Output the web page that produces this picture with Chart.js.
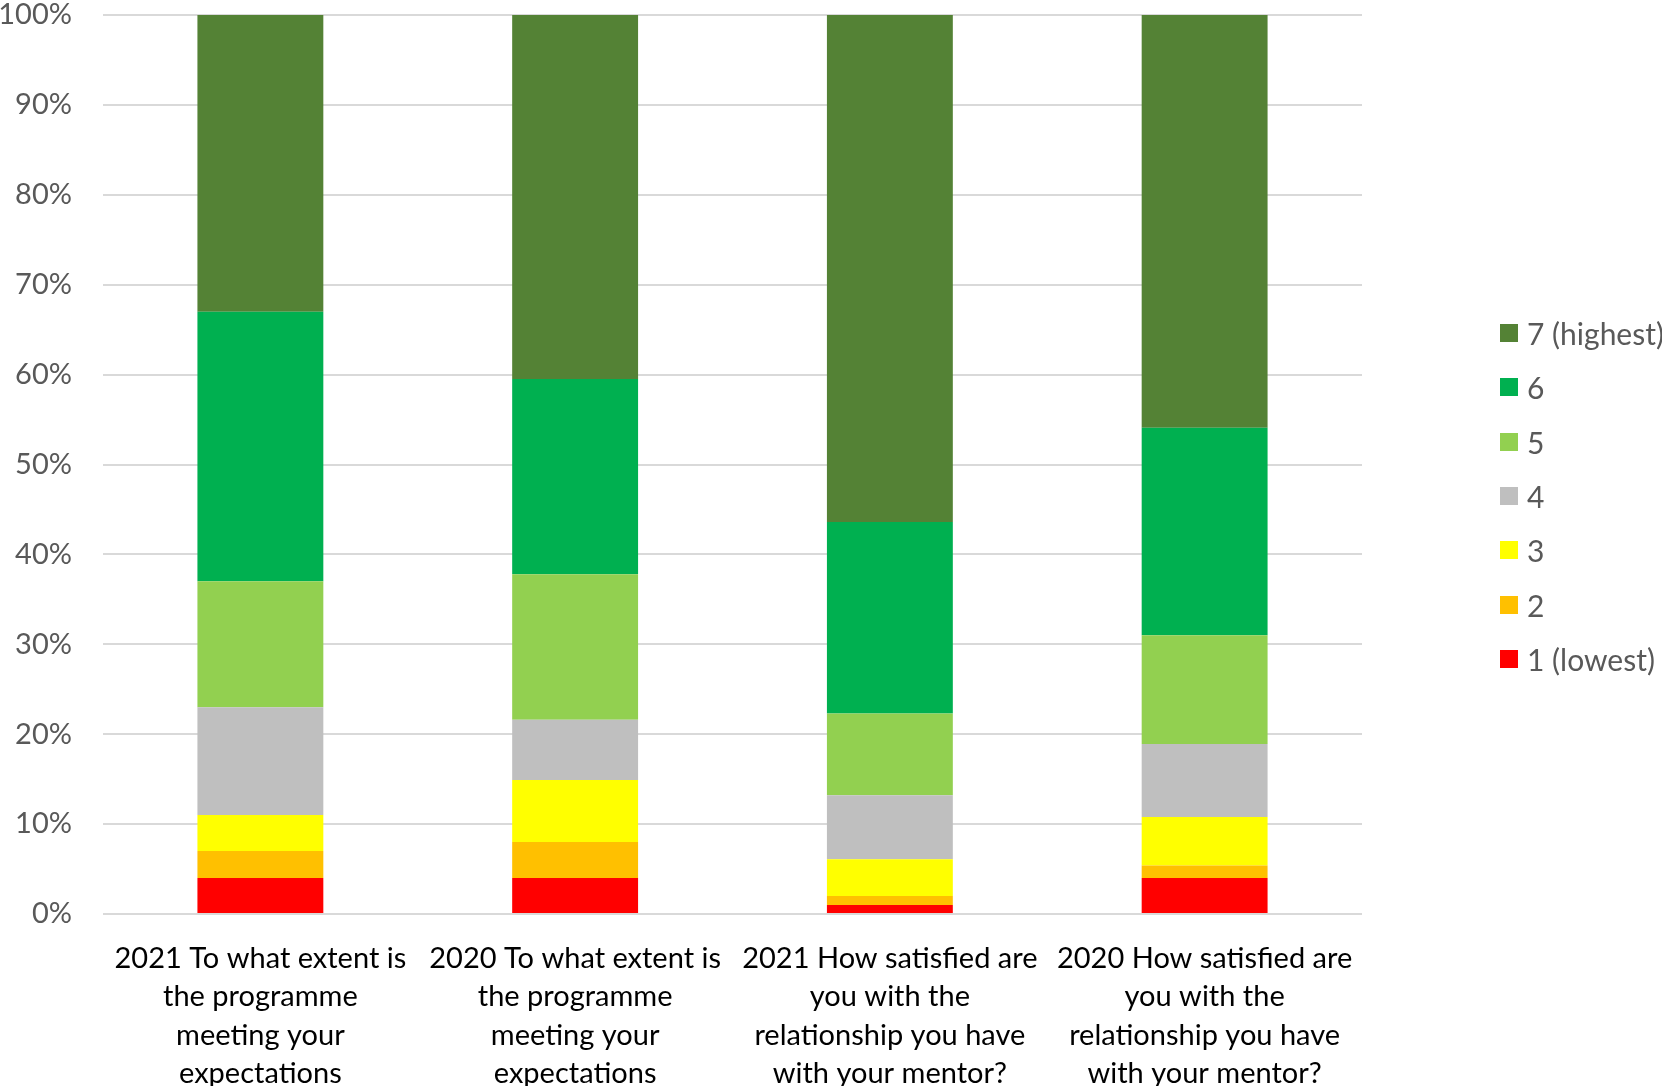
<!DOCTYPE html>
<html>
<head>
<meta charset="utf-8">
<script src="https://cdn.jsdelivr.net/npm/chart.js@4.4.1/dist/chart.umd.min.js"></script>
<style>
    html, body { margin: 0; padding: 0; background: #fff; overflow: hidden; }
    #wrap { position: relative; width: 1662px; height: 1086px; }
    #legend { position: absolute; left: 1500px; top: 306px; font-family: Lato, 'Open Sans', sans-serif; font-size: 30px; color: #595959; }
    .leg-item { height: 54.3px; display: flex; align-items: center; white-space: nowrap; }
    .leg-box { width: 18px; height: 18px; margin-right: 9px; flex: none; }
</style>
</head>
<body>
<div id="wrap">
    <canvas id="chart" width="1662" height="1086"></canvas>
    <div id="legend"></div>
</div>
<script>
const categories = [
    ['2021 To what extent is', 'the programme', 'meeting your', 'expectations'],
    ['2020 To what extent is', 'the programme', 'meeting your', 'expectations'],
    ['2021 How satisfied are', 'you with the', 'relationship you have', 'with your mentor?'],
    ['2020 How satisfied are', 'you with the', 'relationship you have', 'with your mentor?']
];

const seriesNames = ['1 (lowest)', '2', '3', '4', '5', '6', '7 (highest)'];
const seriesColors = ['#FF0000', '#FFC000', '#FFFF00', '#BFBFBF', '#92D050', '#00B050', '#548235'];

// percent of answers per score, one array per score
const score1 = [4.0, 4.0, 1.0, 4.0];
const score2 = [3.0, 4.0, 1.0, 1.4];
const score3 = [4.0, 6.9, 4.1, 5.4];
const score4 = [12.0, 6.7, 7.1, 8.1];
const score5 = [14.0, 16.2, 9.1, 12.1];
const score6 = [30.0, 21.7, 21.3, 23.1];
const score7 = [33.0, 40.5, 56.4, 45.9];
const seriesValues = [score1, score2, score3, score4, score5, score6, score7];

const yTicks = [0, 10, 20, 30, 40, 50, 60, 70, 80, 90, 100];

const FONT = "Lato, 'Open Sans', sans-serif";

const datasets = seriesNames.map((name, i) => ({
    label: name,
    data: seriesValues[i],
    backgroundColor: seriesColors[i],
    borderWidth: 0,
    barPercentage: 0.4,
    categoryPercentage: 1.0
}));

const ctx = document.getElementById('chart').getContext('2d');
const chart = new Chart(ctx, {
    type: 'bar',
    data: { labels: categories, datasets: datasets },
    options: {
        responsive: false,
        animation: false,
        layout: { padding: { top: 15, right: 300, left: 0, bottom: 0 } },
        plugins: { legend: { display: false }, tooltip: { enabled: false } },
        scales: {
            x: {
                stacked: true,
                grid: { display: false },
                border: { display: false },
                ticks: {
                    autoSkip: false,
                    maxRotation: 0,
                    minRotation: 0,
                    padding: 17,
                    color: '#000000',
                    font: { family: FONT, size: 29, lineHeight: 1.33 }
                },
                afterFit: (scale) => { scale.height = 172; scale.paddingLeft = 0; scale.paddingRight = 0; }
            },
            y: {
                stacked: true,
                min: 0,
                max: 100,
                afterBuildTicks: (scale) => { scale.ticks = yTicks.map(v => ({ value: v })); },
                grid: { color: '#D9D9D9', lineWidth: 2, drawTicks: false },
                border: { display: false },
                ticks: {
                    padding: 31,
                    color: '#595959',
                    font: { family: FONT, size: 29 },
                    callback: (v) => v + '%'
                },
                afterFit: (scale) => { scale.width = 103; scale.paddingTop = 0; scale.paddingBottom = 0; }
            }
        }
    }
});

// legend, highest score on top
const legend = document.getElementById('legend');
for (let i = seriesNames.length - 1; i >= 0; i--) {
    const item = document.createElement('div');
    item.className = 'leg-item';
    const box = document.createElement('span');
    box.className = 'leg-box';
    box.style.background = seriesColors[i];
    const txt = document.createElement('span');
    txt.textContent = seriesNames[i];
    item.appendChild(box);
    item.appendChild(txt);
    legend.appendChild(item);
}
</script>
</body>
</html>
